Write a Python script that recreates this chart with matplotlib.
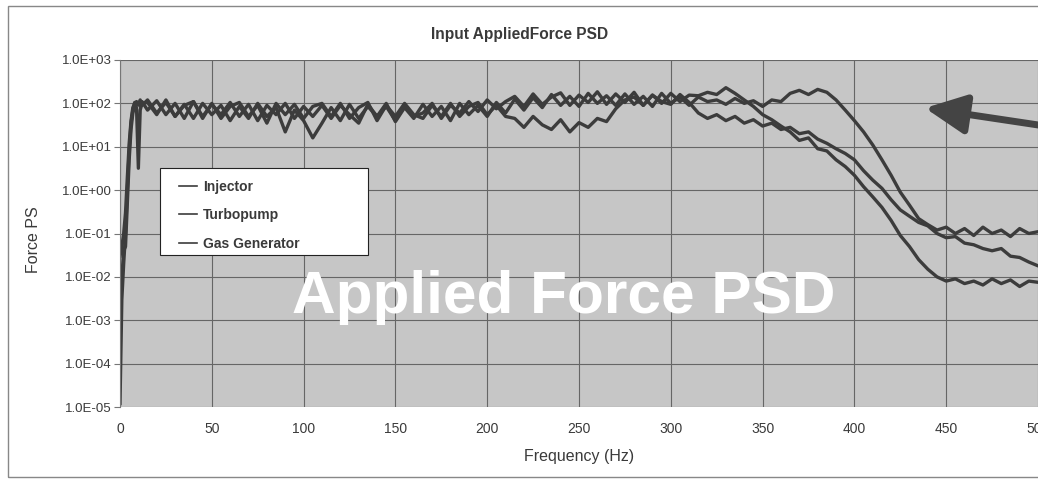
import numpy as np
import matplotlib
matplotlib.use('Agg')
import matplotlib.pyplot as plt
from matplotlib.ticker import FuncFormatter, FixedLocator
from matplotlib.patches import Rectangle

plt.rcParams['font.family'] = ['Liberation Sans', 'DejaVu Sans']

# frequencias (Hz)
freq = [0, 1, 2, 3, 4, 5, 6, 7, 8, 9, 10, 11, 12,
        15, 20, 25, 30, 35, 40, 45, 50, 55, 60,
        65, 70, 75, 80, 85, 90, 95, 100, 105, 110,
        115, 120, 125, 130, 135, 140, 145, 150, 155, 160,
        165, 170, 175, 180, 185, 190, 195, 200, 205, 210,
        215, 220, 225, 230, 235, 240, 245, 250, 255, 260,
        265, 270, 275, 280, 285, 290, 295, 300, 305, 310,
        315, 320, 325, 330, 335, 340, 345, 350, 355, 360,
        365, 370, 375, 380, 385, 390, 395, 400, 405, 410,
        415, 420, 425, 430, 435, 440, 445, 450, 455, 460,
        465, 470, 475, 480, 485, 490, 495, 500]

# PSD
psd_injector = [3e-2, 0.05, 0.1, 0.3, 2, 12, 40, 80, 100, 110, 95, 120, 90,
                120, 60, 105, 50, 95, 45, 100, 55, 90, 40,
                85, 45, 100, 50, 80, 22, 70, 40, 16, 35,
                80, 40, 95, 45, 85, 50, 100, 38, 80, 45,
                95, 50, 85, 40, 100, 55, 90, 50, 105, 60,
                125, 70, 135, 80, 160, 90, 145, 85, 170, 100,
                150, 90, 165, 95, 145, 85, 170, 100, 140, 90,
                140, 110, 120, 95, 130, 100, 115, 85, 120, 110,
                170, 200, 160, 210, 180, 120, 70, 40, 22, 11,
                5, 2.2, 0.9, 0.45, 0.22, 0.16, 0.12, 0.14, 0.1, 0.13,
                0.09, 0.14, 0.1, 0.12, 0.085, 0.13, 0.1, 0.11]

psd_turbopump = [1.2e-5, 3e-3, 0.02, 0.1, 1, 8, 35, 70, 105, 90, 100, 85, 110,
                 70, 115, 55, 100, 45, 110, 50, 95, 55, 105,
                 50, 95, 40, 90, 55, 100, 45, 85, 50, 90,
                 45, 90, 55, 35, 95, 50, 85, 40, 90, 50,
                 60, 100, 45, 90, 60, 110, 65, 120, 75, 110,
                 145, 85, 165, 95, 140, 175, 90, 155, 105, 185,
                 95, 165, 105, 180, 90, 155, 100, 170, 110, 155,
                 150, 180, 160, 230, 170, 120, 85, 55, 42, 30,
                 22, 14, 16, 9, 8, 5, 3.5, 2.2, 1.2, 0.7,
                 0.4, 0.2, 0.09, 0.05, 0.025, 0.015, 0.01, 0.008, 0.009, 0.007,
                 0.008, 0.0065, 0.009, 0.007, 0.0085, 0.006, 0.008, 0.0075]

psd_gasgen = [3e-3, 0.01, 0.04, 0.05, 0.5, 5, 25, 60, 90, 80, 3.2, 70, 100,
              105, 55, 120, 50, 90, 110, 45, 100, 45, 85,
              105, 50, 90, 35, 100, 55, 95, 45, 85, 100,
              50, 100, 45, 80, 105, 40, 90, 50, 100, 55,
              45, 90, 50, 100, 50, 85, 105, 55, 90, 50,
              45, 28, 50, 32, 25, 42, 22, 36, 28, 45,
              38, 75, 120, 140, 90, 155, 110, 95, 160, 105,
              60, 45, 55, 40, 50, 35, 42, 30, 35, 25,
              28, 20, 22, 15, 12, 9, 7, 5, 2.8, 1.7,
              1.1, 0.6, 0.35, 0.25, 0.18, 0.15, 0.1, 0.08, 0.085, 0.06,
              0.055, 0.045, 0.04, 0.045, 0.03, 0.028, 0.022, 0.018]

series = [('Injector', psd_injector),
          ('Turbopump', psd_turbopump),
          ('Gas Generator', psd_gasgen)]

yticks = [1e-5, 1e-4, 1e-3, 1e-2, 1e-1, 1e0, 1e1, 1e2, 1e3]
xticks = [0, 50, 100, 150, 200, 250, 300, 350, 400, 450, 500]

cor_linha = '#3c3c3c'
cor_texto = '#3a3a3a'

fig = plt.figure(figsize=(10.38, 4.8), dpi=100)
fig.patch.set_facecolor('white')
ax = fig.add_axes([120/1038, 1-407/480, 1-120/1038, (407-60)/480])
ax.set_facecolor('#c6c6c6')

for nome, vals in series:
    ax.plot(freq, vals, color=cor_linha, lw=2.4, label=nome)

ax.set_yscale('log')
ax.set_ylim(1e-5, 1e3)
ax.set_xlim(0, 500)
ax.yaxis.set_major_locator(FixedLocator(yticks))
ax.yaxis.set_minor_locator(FixedLocator([]))
ax.yaxis.set_major_formatter(FuncFormatter(lambda v, p: f'{v:.1E}'))
ax.set_xticks(xticks)
ax.grid(True, color='#666666', lw=0.8)
ax.set_axisbelow(True)
for s in ax.spines.values():
    s.set_visible(False)
ax.spines['left'].set_visible(True)
ax.spines['left'].set_color('#777777')
ax.tick_params(axis='y', length=4, color='#777777', labelsize=9.5,
               labelcolor=cor_texto, pad=2)
ax.tick_params(axis='x', length=0, labelsize=10, labelcolor=cor_texto, pad=11)

ax.set_xlabel('Frequency (Hz)', fontsize=11.5, color=cor_texto, labelpad=9)
fig.text(33/1038, 1-240/480, 'Force PS', rotation=90, ha='center',
         va='center', fontsize=11.5, color=cor_texto)
fig.text(520/1038, 1-35/480, 'Input AppliedForce PSD', ha='center',
         va='center', fontsize=11.2, fontweight='bold', color=cor_texto)

# caixa da legenda
ax.add_patch(Rectangle((160/1038, 1-255/480), 208/1038, 87/480,
                       transform=fig.transFigure, facecolor='white',
                       edgecolor='#222222', lw=0.8, zorder=4))
leg = ax.legend(loc='upper left', bbox_to_anchor=(0.057, 0.675),
                frameon=False, handlelength=1.3, handletextpad=0.4,
                borderpad=0.5, labelspacing=1.05, borderaxespad=0)
leg.set_zorder(5)
for t in leg.get_texts():
    t.set_fontweight('bold')
    t.set_fontsize(10)
    t.set_color(cor_texto)
for h in leg.get_lines():
    h.set_linewidth(1.2)

ax.text(0.483, 0.315, 'Applied Force PSD', transform=ax.transAxes,
        ha='center', va='center', fontsize=43.5, fontweight='bold',
        color='white', zorder=6)

ax.annotate('', xy=(925/1038, 1-108/480), xycoords='figure fraction',
            xytext=(1045/1038, 1-126/480), textcoords='figure fraction',
            arrowprops=dict(arrowstyle='-|>,head_length=2.5,head_width=1.2',
                            color='#444444', lw=5, shrinkA=0, shrinkB=0))

fig.patches.append(Rectangle((8/1038, 3/480), 1.2, 1-9/480,
                             transform=fig.transFigure, fill=False,
                             edgecolor='#888888', lw=1))

fig.savefig('out.png', dpi=100)
